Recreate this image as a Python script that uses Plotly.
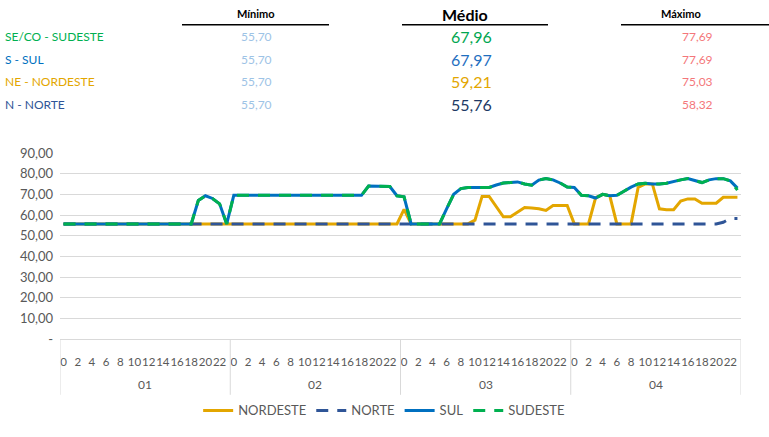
import plotly.graph_objects as go

# ---------------- data ----------------
groups = ["01", "02", "03", "04"]
hours = list(range(24))

nordeste = (
    [55.70] * 24
    + [55.70] * 24
    + [62.70, 55.70, 55.70, 55.70, 55.70, 55.70, 55.70, 55.70, 55.70, 55.70, 57.50, 69.00,
       69.00, 64.00, 59.10, 59.10, 61.50, 63.60, 63.40, 63.00, 62.20, 64.60, 64.60, 64.60]
    + [55.70, 55.70, 55.70, 68.30, 70.00, 69.30, 55.70, 55.70, 55.70, 73.30, 75.03, 75.03,
       63.00, 62.60, 62.60, 66.80, 67.80, 67.80, 65.70, 65.70, 65.70, 68.60, 68.60, 68.60]
)
norte = (
    [55.70] * 24
    + [55.70] * 24
    + [55.70] * 24
    + [55.70] * 21 + [56.50, 58.32, 58.32]
)
sul = (
    [55.70] * 19 + [67.00, 69.30, 68.00, 65.40, 55.70]
    + [69.50] * 19 + [74.00, 74.00, 74.00, 73.80, 69.30]
    + [68.80, 55.70, 55.70, 55.70, 55.70, 55.70, 63.00, 70.00, 72.80, 73.30, 73.30, 73.30,
       73.30, 74.50, 75.50, 75.70, 76.00, 75.00, 74.40, 76.90, 77.69, 77.00, 75.50, 73.50]
    + [73.30, 69.50, 69.30, 68.20, 70.00, 69.30, 69.50, 71.50, 73.50, 75.00, 75.40, 75.00,
       75.00, 75.40, 76.30, 77.00, 77.69, 76.60, 75.70, 77.00, 77.60, 77.60, 76.50, 73.00]
)
sudeste = (
    [55.70] * 19 + [67.00, 69.30, 68.00, 65.40, 55.70]
    + [69.50] * 19 + [74.00, 74.00, 74.00, 73.80, 69.30]
    + [68.80, 55.70, 55.70, 55.70, 55.70, 55.70, 63.00, 70.00, 72.80, 73.30, 73.30, 73.30,
       73.30, 74.50, 75.50, 75.70, 76.00, 75.00, 74.40, 76.90, 77.69, 77.00, 75.50, 73.50]
    + [73.30, 69.50, 69.30, 68.20, 70.00, 69.30, 69.50, 71.50, 73.50, 75.00, 75.40, 75.00,
       75.00, 75.40, 76.30, 77.00, 77.69, 76.60, 75.70, 77.00, 77.60, 77.60, 76.50, 72.00]
)

y_ticks = [0, 10, 20, 30, 40, 50, 60, 70, 80, 90]
y_ticktext = ["-", "10,00", "20,00", "30,00", "40,00", "50,00", "60,00", "70,00", "80,00", "90,00"]

# summary table
table_regions = ["SE/CO - SUDESTE", "S - SUL", "NE - NORDESTE", "N - NORTE"]
table_min = ["55,70", "55,70", "55,70", "55,70"]
table_avg = ["67,96", "67,97", "59,21", "55,76"]
table_max = ["77,69", "77,69", "75,03", "58,32"]
table_headers = ["Mínimo", "Médio", "Máximo"]

# ---------------- styling ----------------
C_NE = "#E3A600"
C_N = "#2F5597"
C_S = "#0070C0"
C_SE = "#00B050"
region_colors = [C_SE, C_S, C_NE, C_N]
avg_colors = ["#00A650", "#1F6FBF", "#E3A600", "#203864"]
FONT = "Lato"
GRAY = "#595959"

W, H = 769, 437
PL, PR, PT, PB = 60, 741, 153, 343  # plot area in pixels


def px(x):
    return (x - PL) / (PR - PL)


def py(y):
    return (PB - y) / (PB - PT)


n = len(groups) * len(hours)
xs = list(range(n))

fig = go.Figure()
series = [
    ("NORDESTE", nordeste, C_NE, "solid"),
    ("NORTE", norte, C_N, "12px,9px"),
    ("SUL", sul, C_S, "solid"),
    ("SUDESTE", sudeste, C_SE, "12px,9px"),
]
for name, vals, col, dash in series:
    fig.add_trace(go.Scatter(
        x=xs, y=vals, mode="lines", name=name,
        line=dict(color=col, width=3, dash=dash),
        hoverinfo="skip",
    ))

# hour tick labels (every other hour)
tickvals = [g * len(hours) + h for g in range(len(groups)) for h in hours if h % 2 == 0]
ticktext = [str(hours[v % len(hours)]) for v in tickvals]

annotations = []
shapes = []

# group labels and dividers
for gi, g in enumerate(groups):
    center = gi * len(hours) + (len(hours) - 1) / 2
    annotations.append(dict(
        x=center, xref="x", y=py(389), yref="paper", text=g, showarrow=False,
        font=dict(family=FONT, size=12, color=GRAY), xanchor="center", yanchor="middle",
    ))
for gi in range(len(groups) + 1):
    xb = gi * len(hours) - 0.5
    shapes.append(dict(
        type="line", xref="x", yref="paper", x0=xb, x1=xb, y0=0, y1=py(400),
        line=dict(color="#D9D9D9", width=1),
    ))

# summary table
row_y = [34, 57, 80, 103]
for i, reg in enumerate(table_regions):
    annotations.append(dict(
        x=px(3), y=py(row_y[i]), xref="paper", yref="paper", text=reg, showarrow=False,
        xanchor="left", yanchor="middle", font=dict(family=FONT, size=12, color=region_colors[i]),
    ))
    annotations.append(dict(
        x=px(256), y=py(row_y[i]), xref="paper", yref="paper", text=table_min[i], showarrow=False,
        xanchor="center", yanchor="middle", font=dict(family=FONT, size=12, color="#9DC3E6"),
    ))
    annotations.append(dict(
        x=px(471), y=py(row_y[i]), xref="paper", yref="paper", text=table_avg[i], showarrow=False,
        xanchor="center", yanchor="middle", font=dict(family=FONT, size=16, color=avg_colors[i]),
    ))
    annotations.append(dict(
        x=px(697), y=py(row_y[i]), xref="paper", yref="paper", text=table_max[i], showarrow=False,
        xanchor="center", yanchor="middle", font=dict(family=FONT, size=12, color="#F4777A"),
    ))

hdr_x = [256, 465, 681]
hdr_size = [11, 16, 11]
hdr_y = [10, 12, 10]
for i, h in enumerate(table_headers):
    annotations.append(dict(
        x=px(hdr_x[i]), y=py(hdr_y[i]), xref="paper", yref="paper", text="<b>" + h + "</b>",
        showarrow=False, xanchor="center", yanchor="middle",
        font=dict(family=FONT, size=hdr_size[i], color="#000000"),
    ))
for (a, b) in [(182, 329), (402, 548), (621, 769)]:
    shapes.append(dict(
        type="line", xref="paper", yref="paper", x0=px(a), x1=px(b), y0=py(22), y1=py(22),
        line=dict(color="#000000", width=1.5),
    ))

fig.update_layout(
    width=W, height=H,
    margin=dict(l=PL, r=W - PR, t=PT, b=H - PB),
    paper_bgcolor="white", plot_bgcolor="white",
    font=dict(family=FONT, size=12, color=GRAY),
    showlegend=True,
    legend=dict(
        orientation="h", x=0.476, xanchor="center", y=py(416), yanchor="middle",
        font=dict(family=FONT, size=13, color=GRAY), traceorder="normal",
    ),
    xaxis=dict(
        range=[-0.5, n - 0.5], tickmode="array", tickvals=tickvals, ticktext=ticktext,
        tickangle=0, showgrid=False, zeroline=False, showline=True, linecolor="#D9D9D9",
        linewidth=1, ticks="", tickfont=dict(family=FONT, size=11.5, color=GRAY),
        ticklabelstandoff=12, fixedrange=True,
    ),
    yaxis=dict(
        range=[0, 90], tickmode="array", tickvals=y_ticks, ticktext=y_ticktext,
        showgrid=True, gridcolor="#D9D9D9", gridwidth=1, zeroline=False, showline=False,
        ticks="", tickfont=dict(family=FONT, size=13, color=GRAY), ticklabelstandoff=6,
        fixedrange=True,
    ),
    annotations=annotations,
    shapes=shapes,
)

fig.write_html(
    "out.html",
    config={"displayModeBar": False},
    post_script="document.body.style.margin='0';document.body.style.padding='0';",
)
